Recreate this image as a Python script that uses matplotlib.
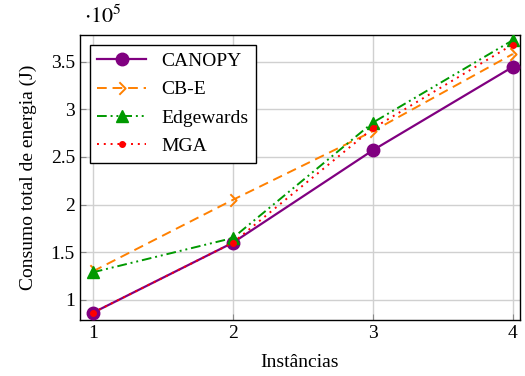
import matplotlib
matplotlib.use('Agg')
import matplotlib.pyplot as plt
from matplotlib.path import Path
import numpy as np

plt.rcParams['font.family'] = 'Liberation Serif'
plt.rcParams['mathtext.fontset'] = 'stix'

instancias = [1, 2, 3, 4]
canopy = [0.865, 1.60, 2.57, 3.445]
cbe = [1.30, 2.05, 2.77, 3.58]
edgewards = [1.29, 1.65, 2.86, 3.725]
mga = [0.865, 1.60, 2.80, 3.68]

chevron = Path([(-0.5, 1), (0.5, 0), (-0.5, -1)],
               [Path.MOVETO, Path.LINETO, Path.LINETO])

fig = plt.figure(figsize=(5.25, 3.76), dpi=100)
ax = fig.add_axes([0.152, 0.149, 0.838, 0.758])

ax.plot(instancias, canopy, color='#800080', lw=1.6, marker='o', ms=9, label='CANOPY', zorder=3)
ax.plot(instancias, cbe, color='#ff8000', lw=1.4, ls=(0, (5, 3)), marker=chevron, ms=9,
        mfc='none', mew=1.4, label='CB-E', zorder=4)
ax.plot(instancias, edgewards, color='#009900', lw=1.4, ls=(0, (5, 2, 1, 2, 1, 2)), marker='^', ms=8,
        label='Edgewards', zorder=5)
ax.plot(instancias, mga, color='red', lw=1.4, ls=(0, (1, 2.5)), marker='o', ms=4,
        label='MGA', zorder=6)

ax.set_xlim(0.907, 4.05)
ax.set_ylim(0.79, 3.78)
ax.set_xticks([1, 2, 3, 4])
ax.set_yticks([1, 1.5, 2, 2.5, 3, 3.5])
ax.set_yticklabels(['1', '1.5', '2', '2.5', '3', '3.5'])
ax.tick_params(direction='in', labelsize=14, length=4, color='#888888')
ax.grid(True, color='#d0d0d0', lw=1)
ax.set_axisbelow(True)
for s in ax.spines.values():
    s.set_linewidth(1)

ax.set_xlabel('Instâncias', fontsize=14, labelpad=9)
ax.set_ylabel('Consumo total de energia (J)', fontsize=14, labelpad=10)
ax.text(0.01, 1.025, r'$\cdot 10^5$', transform=ax.transAxes, fontsize=16, ha='left', va='bottom')

leg = ax.legend(loc='upper left', fontsize=14, fancybox=False, framealpha=1,
                edgecolor='black', handlelength=2.5, borderaxespad=0.5,
                labelspacing=0.55)
leg.get_frame().set_linewidth(1)

plt.savefig('out.png', dpi=100)
plt.close()
